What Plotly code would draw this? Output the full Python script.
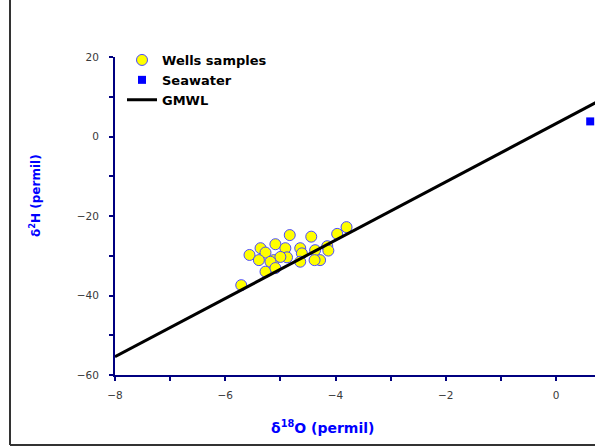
import plotly.graph_objects as go

# Wells samples (delta18O, delta2H)
wells_d18o = [-5.71, -5.56, -5.36, -5.27, -5.09, -4.83, -4.91, -5.12, -4.88, -5.27,
              -4.64, -4.61, -4.64, -4.44, -4.37, -4.28, -4.38, -4.15, -4.13, -3.97,
              -3.80, -5.00, -5.18, -5.39, -5.09]
wells_d2h = [-37.4, -29.8, -28.1, -29.2, -27.1, -24.8, -28.1, -31.1, -30.4, -34.0,
             -28.1, -29.4, -31.5, -25.2, -28.6, -31.1, -31.1, -27.6, -28.7, -24.5,
             -22.8, -30.3, -31.5, -31.1, -33.1]

sea_d18o = [0.62]
sea_d2h = [3.8]

gmwl_x = [-8.0, 2.0]
gmwl_y = [-55.4, 17.9]

x_range = [-8, 0.707]
y_range = [-60, 20]

FONT = "DejaVu Sans, Arial, sans-serif"
NAVY = "#000080"

fig = go.Figure()
fig.add_trace(go.Scatter(
    x=wells_d18o, y=wells_d2h, mode="markers", name="Wells samples",
    marker=dict(symbol="circle", size=11, color="#FFFF00",
                line=dict(color="#4a4aff", width=1)),
))
fig.add_trace(go.Scatter(
    x=sea_d18o, y=sea_d2h, mode="markers", name="Seawater",
    marker=dict(symbol="square", size=8, color="#0000FF", line=dict(width=0)),
))
fig.add_trace(go.Scatter(
    x=gmwl_x, y=gmwl_y, mode="lines", name="GMWL",
    line=dict(color="black", width=3),
))

W, H = 595, 447
L, R, T, B = 115, 0, 57, 72
pw, ph = W - L - R, H - T - B

def px_x(p):
    return (p - L) / pw

def px_y(p):
    return (H - B - p) / ph

tickfont = dict(family=FONT, size=10.5, color="#3a3a3a")

fig.update_layout(
    width=W, height=H,
    margin=dict(l=L, r=R, t=T, b=B, pad=0),
    paper_bgcolor="white", plot_bgcolor="white",
    font=dict(family=FONT, size=10.5, color="#3a3a3a"),
    showlegend=True,
    hovermode=False,
    legend=dict(
        x=px_x(122), y=px_y(45), xanchor="left", yanchor="top",
        bgcolor="rgba(0,0,0,0)", borderwidth=0,
        font=dict(family=FONT, size=13, color="black", weight="bold"),
        itemwidth=30, tracegroupgap=0,
    ),
    xaxis=dict(
        range=x_range, showgrid=False, zeroline=False,
        showline=True, linecolor=NAVY, linewidth=2,
        ticks="outside", tickcolor=NAVY, ticklen=4, tickwidth=2,
        dtick=2, tick0=0, ticklabelstandoff=5, tickfont=tickfont,
        minor=dict(dtick=1, tick0=0, ticks="outside", ticklen=4,
                   tickcolor=NAVY, tickwidth=2, showgrid=False),
    ),
    yaxis=dict(
        range=y_range, showgrid=False, zeroline=False,
        showline=True, linecolor=NAVY, linewidth=2,
        ticks="outside", tickcolor=NAVY, ticklen=4, tickwidth=2,
        dtick=20, tick0=0, ticklabelstandoff=8, tickfont=tickfont,
        minor=dict(dtick=10, tick0=0, ticks="outside", ticklen=4,
                   tickcolor=NAVY, tickwidth=2, showgrid=False),
    ),
    annotations=[
        dict(text="<b>δ<sup>18</sup>O (permil)</b>", xref="paper", yref="paper",
             x=px_x(322), y=px_y(427), xanchor="center", yanchor="middle",
             showarrow=False, font=dict(family=FONT, size=14, color="#0000FF")),
        dict(text="<b>δ<sup>2</sup>H (permil)</b>", xref="paper", yref="paper",
             x=px_x(35), y=px_y(196), xanchor="center", yanchor="middle",
             textangle=-90, showarrow=False,
             font=dict(family=FONT, size=12, color="#0000FF")),
    ],
    shapes=[
        dict(type="line", xref="paper", yref="paper",
             x0=px_x(10), x1=px_x(10), y0=px_y(445), y1=px_y(-5),
             line=dict(color="#333333", width=2)),
        dict(type="line", xref="paper", yref="paper",
             x0=px_x(10), x1=px_x(600), y0=px_y(445), y1=px_y(445),
             line=dict(color="#333333", width=2)),
    ],
)

fig.write_html(
    "out.html",
    config={"displayModeBar": False, "staticPlot": True},
    post_script="document.body.style.margin='0px';"
                "document.documentElement.style.overflow='hidden';"
                "document.body.style.overflow='hidden';",
)
